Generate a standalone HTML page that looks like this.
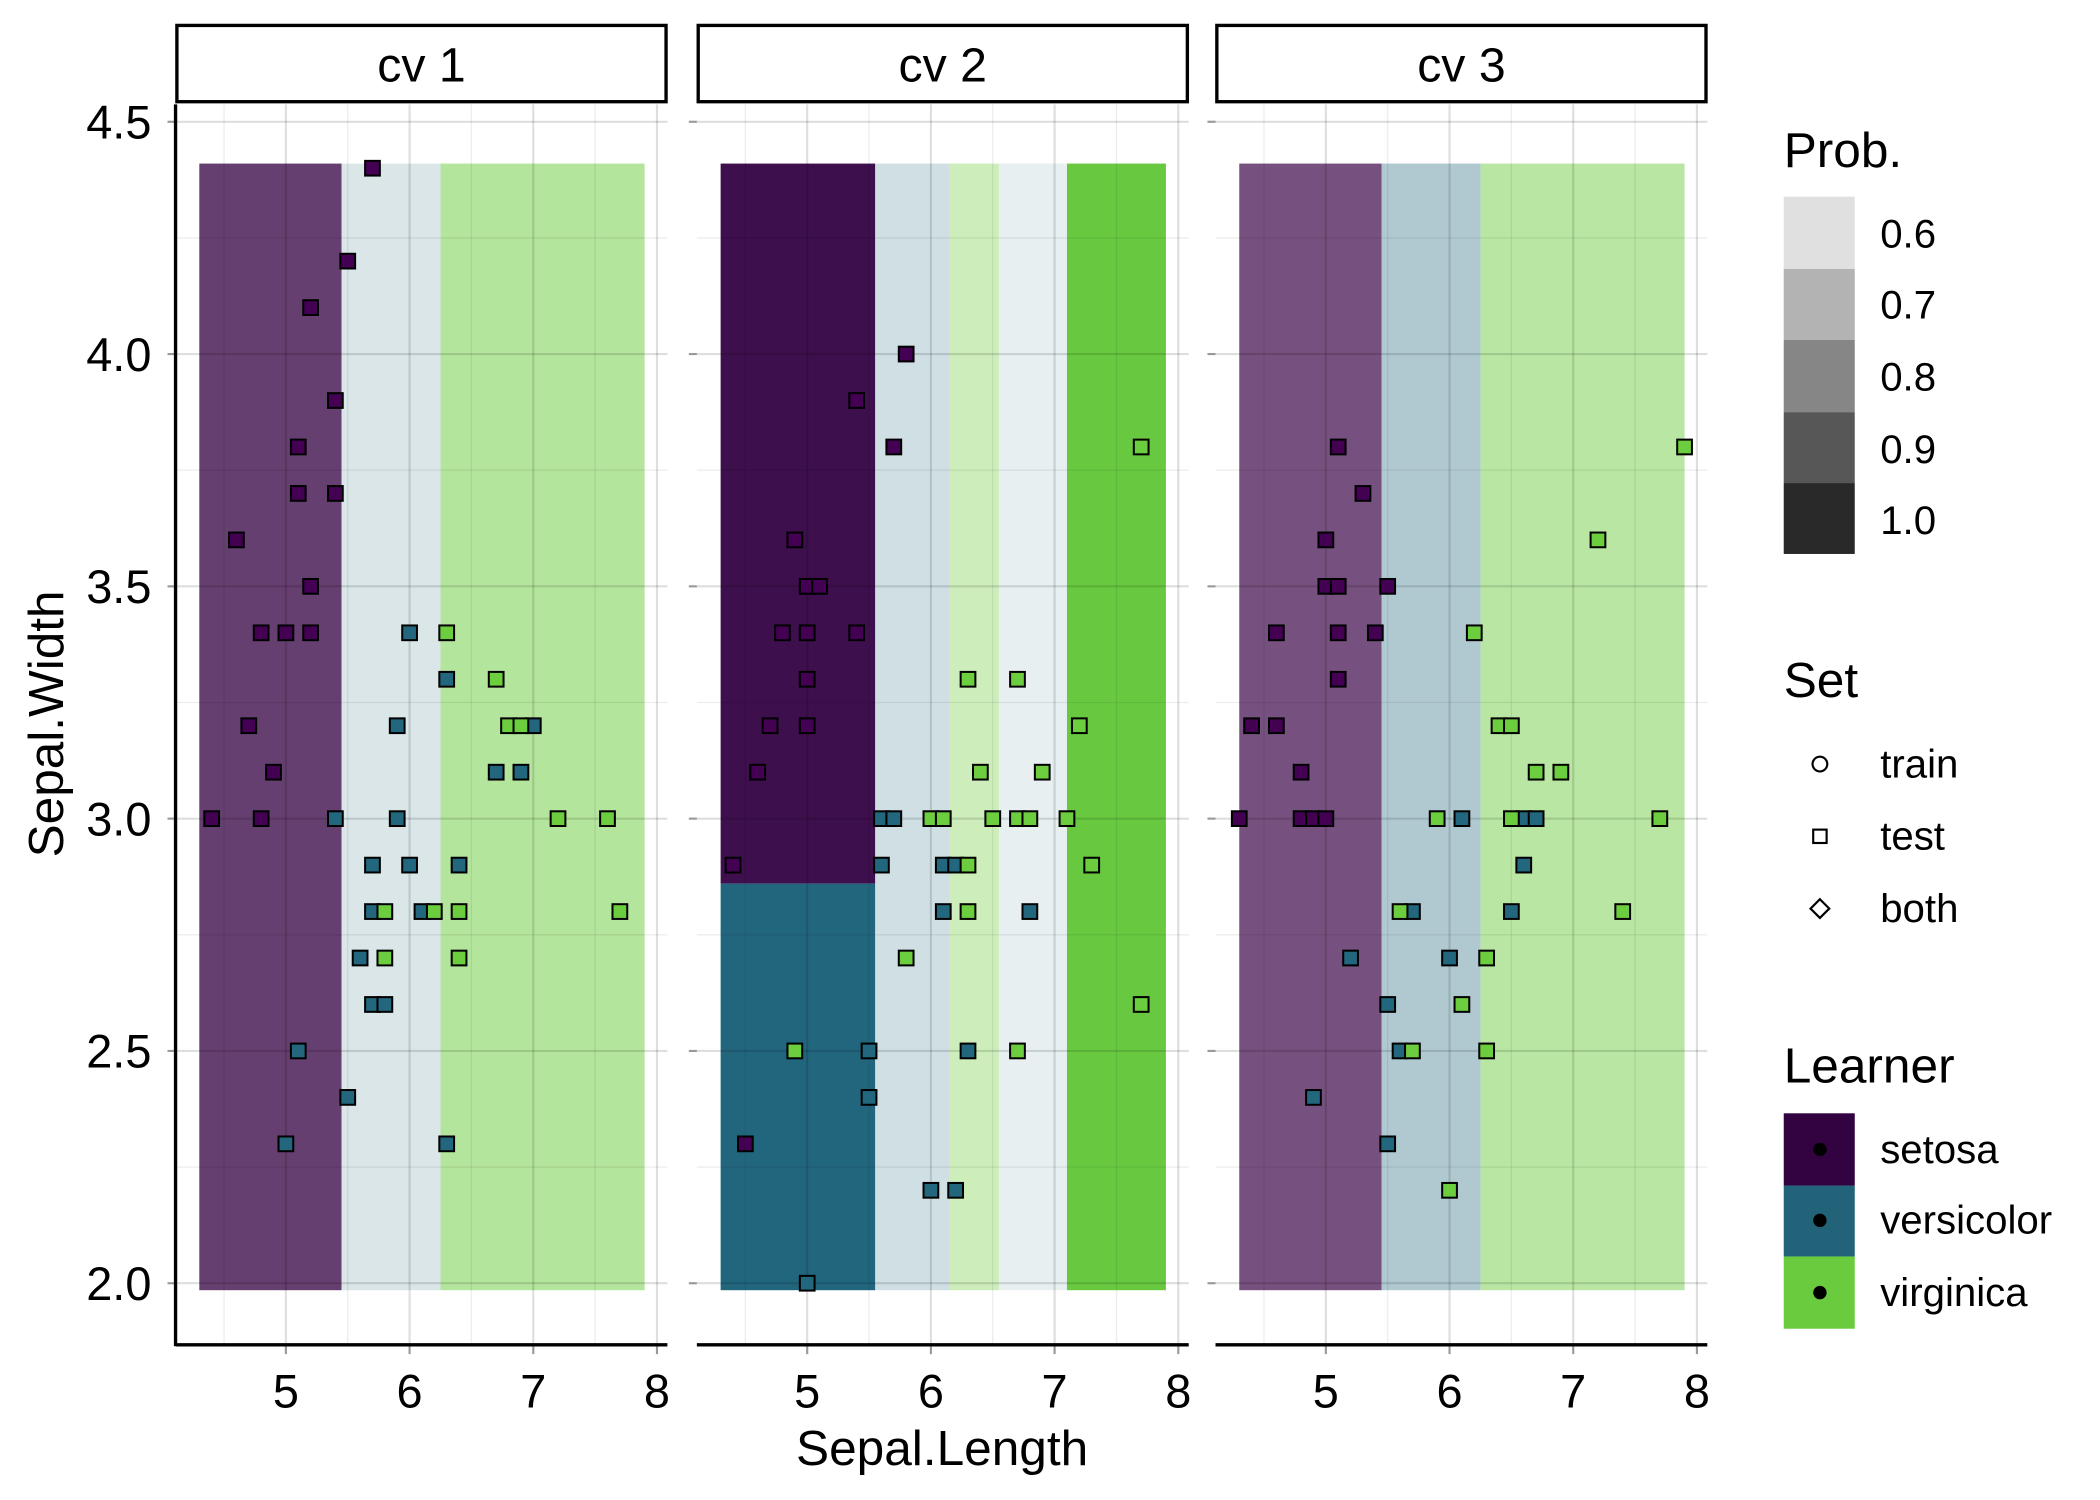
<!DOCTYPE html>
<html><head><meta charset="utf-8"><style>
html,body{margin:0;padding:0;background:#fff}
svg{display:block;font-family:"Liberation Sans",Arial,sans-serif}
</style></head><body>
<svg id="chart" width="2100" height="1500" viewBox="0 0 1567 1121" preserveAspectRatio="none" xmlns="http://www.w3.org/2000/svg">
<rect width="1567" height="1121" fill="#fff"/>
<g id="panels"></g>
<text x="703" y="1095" font-size="37" text-anchor="middle">Sepal.Length</text>
<text transform="translate(47,541) rotate(-90)" font-size="37" text-anchor="middle">Sepal.Width</text>
<g id="legend">
<text x="1331" y="125" font-size="37">Prob.</text>
<rect x="1331" y="147" width="53" height="54" fill="#e0e0e0"/>
<rect x="1331" y="201" width="53" height="53" fill="#b3b3b3"/>
<rect x="1331" y="254" width="53" height="54" fill="#868686"/>
<rect x="1331" y="308" width="53" height="53" fill="#575757"/>
<rect x="1331" y="361" width="53" height="53" fill="#292929"/>
<g font-size="30">
<text x="1403" y="185">0.6</text>
<text x="1403" y="238">0.7</text>
<text x="1403" y="292">0.8</text>
<text x="1403" y="346">0.9</text>
<text x="1403" y="399">1.0</text>
</g>
<text x="1331" y="521" font-size="37">Set</text>
<circle cx="1358" cy="571" r="5.5" fill="none" stroke="#000" stroke-width="1.6"/>
<rect x="1353" y="620" width="10" height="10" fill="none" stroke="#000" stroke-width="1.6"/>
<polygon points="1358,672 1365,679 1358,686 1351,679" fill="none" stroke="#000" stroke-width="1.6"/>
<g font-size="30">
<text x="1403" y="581">train</text>
<text x="1403" y="635">test</text>
<text x="1403" y="689">both</text>
</g>
<text x="1331" y="809" font-size="37">Learner</text>
<rect x="1331" y="832" width="53" height="54" fill="#330240"/>
<rect x="1331" y="886" width="53" height="53" fill="#22637a"/>
<rect x="1331" y="939" width="53" height="54" fill="#6acb3f"/>
<circle cx="1358" cy="859" r="5" fill="#000"/><circle cx="1358" cy="912" r="5" fill="#000"/><circle cx="1358" cy="966" r="5" fill="#000"/>
<g font-size="30">
<text x="1403" y="869">setosa</text>
<text x="1403" y="922">versicolor</text>
<text x="1403" y="976">virginica</text>
</g>
</g>
</svg>
<script>
const panelNames = ["cv 1","cv 2","cv 3"];
const xTicks = [5,6,7,8];
const yTicks = [2.0,2.5,3.0,3.5,4.0,4.5];
const yTickLabels = ["2.0","2.5","3.0","3.5","4.0","4.5"];
const regions1 = [[4.3,5.45,1.985,4.41,"#653f6f"],[5.45,6.25,1.985,4.41,"#dae6e8"],[6.25,7.9,1.985,4.41,"#b4e59c"]];
const regions2 = [[4.3,5.55,2.86,4.41,"#3d0f4c"],[4.3,5.55,1.985,2.86,"#22667e"],[5.55,6.15,1.985,4.41,"#d0dfe3"],[6.15,6.55,1.985,4.41,"#cdeebb"],[6.55,7.1,1.985,4.41,"#e7eff1"],[7.1,7.9,1.985,4.41,"#68c940"]];
const regions3 = [[4.3,5.45,1.985,4.41,"#76507e"],[5.45,6.25,1.985,4.41,"#b0c9d1"],[6.25,7.9,1.985,4.41,"#b9e6a3"]];
const setosa1 = [[5.7,4.4],[5.5,4.2],[5.2,4.1],[5.4,3.9],[5.1,3.8],[5.1,3.7],[5.4,3.7],[4.6,3.6],[5.2,3.5],[4.8,3.4],[5.0,3.4],[5.2,3.4],[4.7,3.2],[4.9,3.1],[4.4,3.0],[4.8,3.0]];
const versicolor1 = [[6.0,3.4],[6.3,3.3],[5.9,3.2],[7.0,3.2],[6.7,3.1],[6.9,3.1],[5.4,3.0],[5.9,3.0],[5.7,2.9],[6.0,2.9],[6.4,2.9],[5.7,2.8],[6.1,2.8],[5.6,2.7],[5.7,2.6],[5.8,2.6],[5.1,2.5],[5.5,2.4],[5.0,2.3],[6.3,2.3]];
const virginica1 = [[6.3,3.4],[6.7,3.3],[6.8,3.2],[6.9,3.2],[7.2,3.0],[7.6,3.0],[5.8,2.8],[6.2,2.8],[6.4,2.8],[5.8,2.7],[6.4,2.7],[7.7,2.8]];
const setosa2 = [[5.8,4.0],[5.4,3.9],[5.7,3.8],[4.9,3.6],[5.0,3.5],[5.1,3.5],[4.8,3.4],[5.0,3.4],[5.4,3.4],[5.0,3.3],[4.7,3.2],[5.0,3.2],[4.6,3.1],[4.4,2.9],[4.5,2.3]];
const versicolor2 = [[5.6,3.0],[5.7,3.0],[5.6,2.9],[6.1,2.9],[6.2,2.9],[6.1,2.8],[6.8,2.8],[5.5,2.5],[5.5,2.4],[6.3,2.5],[6.0,2.2],[6.2,2.2],[5.0,2.0]];
const virginica2 = [[7.7,3.8],[7.2,3.2],[6.3,3.3],[6.7,3.3],[6.4,3.1],[6.9,3.1],[6.0,3.0],[6.1,3.0],[6.5,3.0],[6.7,3.0],[6.8,3.0],[7.1,3.0],[6.3,2.9],[7.3,2.9],[6.3,2.8],[5.8,2.7],[4.9,2.5],[6.7,2.5],[7.7,2.6]];
const setosa3 = [[5.1,3.8],[5.3,3.7],[5.0,3.6],[5.0,3.5],[5.1,3.5],[5.5,3.5],[4.6,3.4],[5.1,3.4],[5.4,3.4],[5.1,3.3],[4.4,3.2],[4.6,3.2],[4.8,3.1],[4.3,3.0],[4.8,3.0],[4.9,3.0],[5.0,3.0]];
const versicolor3 = [[6.1,3.0],[6.6,3.0],[6.7,3.0],[6.6,2.9],[5.7,2.8],[6.5,2.8],[5.2,2.7],[6.0,2.7],[5.5,2.6],[5.6,2.5],[4.9,2.4],[5.5,2.3]];
const virginica3 = [[7.9,3.8],[7.2,3.6],[6.2,3.4],[6.4,3.2],[6.5,3.2],[6.7,3.1],[6.9,3.1],[5.9,3.0],[6.5,3.0],[7.7,3.0],[5.6,2.8],[7.4,2.8],[6.3,2.7],[6.1,2.6],[5.7,2.5],[6.3,2.5],[6.0,2.2]];

const NS="http://www.w3.org/2000/svg";
const panelLeft=[131,520,907], panelW=367;
const pTop=78, pBottom=1005;
function xs(p,v){return panelLeft[p]+(v-4.108)*92.3;}
function ys(v){return 959-(v-2)*347.2;}
function mk(tag,attrs,parent){const e=document.createElementNS(NS,tag);for(const k in attrs)e.setAttribute(k,attrs[k]);parent.appendChild(e);return e;}
const root=document.getElementById('panels');
const allRegions=[regions1,regions2,regions3];
const allPts=[[setosa1,versicolor1,virginica1],[setosa2,versicolor2,virginica2],[setosa3,versicolor3,virginica3]];
const clsCol=["#440154","#22677e","#6ccd3f"], clsName=["setosa","versicolor","virginica"];
for(let p=0;p<3;p++){
  const g=mk('g',{},root);
  
  
  const L=panelLeft[p], R=L+panelW;
  const s=mk('rect',{x:L+1,y:19,width:panelW-2,height:57,fill:'#fff',stroke:'#000','stroke-width':2.5},g);
  
  
  const st=mk('text',{x:L+panelW/2,y:61,'font-size':36,'text-anchor':'middle'},g);st.textContent=panelNames[p];
  
  
  allRegions[p].forEach(r=>{
    const e=mk('rect',{x:xs(p,r[0]),y:ys(r[3]),width:xs(p,r[1])-xs(p,r[0]),height:ys(r[2])-ys(r[3]),fill:r[4]},g);
    
    
  });
  for(let v=4.5;v<=8.01;v+=0.5){const x=xs(p,v);const major=Math.abs(v-Math.round(v))<0.01;
    mk('line',{x1:x,x2:x,y1:pTop,y2:pBottom,stroke:'#000','stroke-opacity':major?0.13:0.07,'stroke-width':major?1.6:1},g);}
  for(let v=2.0;v<=4.51;v+=0.25){const y=ys(v);const major=Math.abs(v*2-Math.round(v*2))<0.01;
    mk('line',{x1:L,x2:R,y1:y,y2:y,stroke:'#000','stroke-opacity':major?0.13:0.07,'stroke-width':major?1.6:1},g);}
  yTicks.forEach((v,i)=>{const y=ys(v);mk('line',{x1:L-6,x2:L,y1:y,y2:y,stroke:'#999','stroke-width':1.6},g);
    if(p===0){const t=mk('text',{x:L-18,y:y+12.5,'font-size':35,'text-anchor':'end'},g);t.textContent=yTickLabels[i];
      
      }});
  xTicks.forEach(v=>{const x=xs(p,v);mk('line',{x1:x,x2:x,y1:pBottom,y2:pBottom+7,stroke:'#999','stroke-width':1.6},g);
    const t=mk('text',{x:x,y:1052,'font-size':35,'text-anchor':'middle'},g);t.textContent=String(v);
    
    });
  mk('line',{x1:L,x2:R,y1:pBottom,y2:pBottom,stroke:'#000','stroke-width':2.5},g);
  if(p===0)mk('line',{x1:L,x2:L,y1:pTop,y2:pBottom+1,stroke:'#000','stroke-width':2.5},g);
  allPts[p].forEach((arr,c)=>arr.forEach(pt=>{
    const e=mk('rect',{x:xs(p,pt[0])-5.5,y:ys(pt[1])-5.5,width:11,height:11,fill:clsCol[c],stroke:'#000','stroke-width':1.5},g);
    
    
  }));
}
</script>
</body></html>
